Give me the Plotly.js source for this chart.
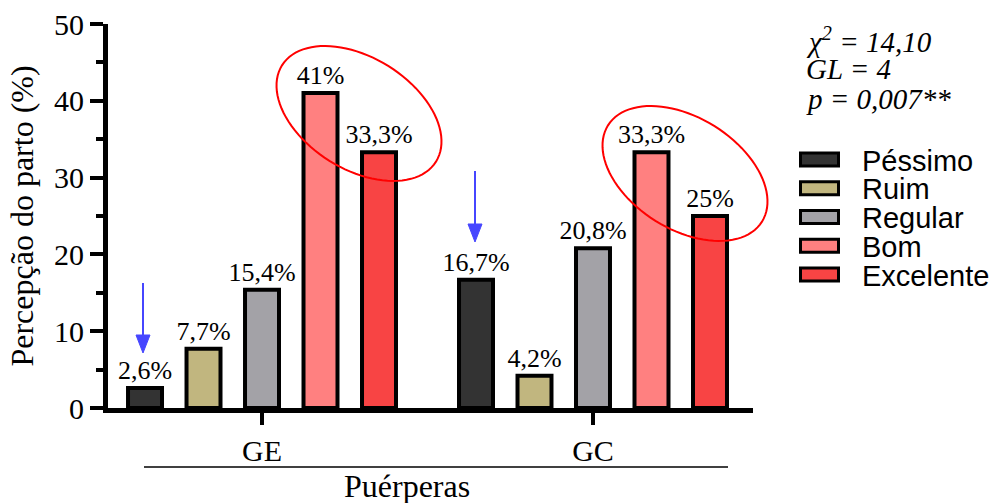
<!DOCTYPE html>
<html>
<head>
<meta charset="utf-8">
<script src="https://cdn.plot.ly/plotly-3.0.1.min.js"></script>
<style>
  html, body { margin: 0; padding: 0; background: #ffffff; }
  #chart { width: 998px; height: 503px; }
</style>
</head>
<body>
<div id="chart"></div>
<script>
// ---- Data ----
const categories = ['GE', 'GC'];
const seriesNames = ['Péssimo', 'Ruim', 'Regular', 'Bom', 'Excelente'];
const pessimo   = [2.6, 16.7];
const ruim      = [7.7, 4.2];
const regular   = [15.4, 20.8];
const bom       = [41, 33.3];
const excelente = [33.3, 25];
const seriesColors = ['#333333', '#c1b67f', '#a3a2a7', '#ff8080', '#f84444'];
const statLines = ['χ<sup>2</sup> = 14,10', 'GL = 4', 'p = 0,007**'];
const yTitle = 'Percepção do parto (%)';
const xTitle = 'Puérperas';

const allValues = [pessimo, ruim, regular, bom, excelente];

// ---- Geometry helpers (pixels -> paper) ----
const W = 998, H = 503;
const M = { l: 108, r: 245, t: 24, b: 95 };
const PW = W - M.l - M.r, PH = H - M.t - M.b;
const px = x => (x - M.l) / PW;
const py = y => (H - M.b - y) / PH;
const SERIF = 'Liberation Serif, Times New Roman, serif';
const SANS = 'Liberation Sans, Arial, sans-serif';

const fmt = v => String(v).replace('.', ',') + '%';

const traces = allValues.map((vals, i) => ({
  type: 'bar',
  name: seriesNames[i],
  x: categories,
  y: vals,
  text: vals.map(fmt),
  textposition: 'outside',
  constraintext: 'none',
  cliponaxis: false,
  textfont: { family: SERIF, size: 26, color: '#000000' },
  marker: { color: seriesColors[i], line: { color: '#000000', width: 4 } },
  showlegend: false,
  hoverinfo: 'skip'
}));

function ellipsePath(cx, cy, a, b, thDeg) {
  const th = thDeg * Math.PI / 180;
  let d = '';
  for (let k = 0; k <= 96; k++) {
    const t = 2 * Math.PI * k / 96;
    const X = cx + a * Math.cos(t) * Math.cos(th) - b * Math.sin(t) * Math.sin(th);
    const Y = cy + a * Math.cos(t) * Math.sin(th) + b * Math.sin(t) * Math.cos(th);
    d += (k === 0 ? 'M' : 'L') + px(X).toFixed(5) + ',' + py(Y).toFixed(5);
  }
  return d + 'Z';
}

function arrowShapes(x, yTop, yTip) {
  const headLen = 18, headHalf = 7;
  return [
    { type: 'line', xref: 'paper', yref: 'paper', x0: px(x), x1: px(x), y0: py(yTop), y1: py(yTip - headLen + 1),
      line: { color: '#4646ff', width: 2 } },
    { type: 'path', xref: 'paper', yref: 'paper',
      path: 'M' + px(x - headHalf) + ',' + py(yTip - headLen) + 'L' + px(x + headHalf) + ',' + py(yTip - headLen) +
            'L' + px(x) + ',' + py(yTip) + 'Z',
      fillcolor: '#4646ff', line: { color: '#4646ff', width: 1 } }
  ];
}

const shapes = [
  { type: 'line', xref: 'paper', yref: 'paper', x0: px(144), x1: px(728), y0: py(467), y1: py(467),
    line: { color: '#000000', width: 1.5 } },
  { type: 'path', xref: 'paper', yref: 'paper', path: ellipsePath(359, 113.5, 90.8, 55.8, 32),
    line: { color: '#ff0000', width: 2 }, fillcolor: 'rgba(0,0,0,0)' },
  { type: 'path', xref: 'paper', yref: 'paper', path: ellipsePath(685, 173.5, 90.8, 55.8, 32),
    line: { color: '#ff0000', width: 2 }, fillcolor: 'rgba(0,0,0,0)' },
  ...arrowShapes(143, 283, 353),
  ...arrowShapes(475, 171, 242)
];

const annotations = [];

seriesNames.forEach((name, i) => {
  const cy = 159.5 + i * 28.75;
  shapes.push({ type: 'rect', xref: 'paper', yref: 'paper',
    x0: px(800.5), x1: px(838.5), y0: py(cy + 6.5), y1: py(cy - 6.5),
    fillcolor: seriesColors[i], line: { color: '#000000', width: 3 } });
  annotations.push({ xref: 'paper', yref: 'paper', x: px(860), y: py(cy + 1),
    xanchor: 'left', yanchor: 'middle', showarrow: false, text: name,
    font: { family: SANS, size: 29, color: '#000000' } });
});

const statY = [40, 69, 99];
statLines.forEach((s, i) => {
  annotations.push({ xref: 'paper', yref: 'paper', x: px(804), y: py(statY[i]),
    xanchor: 'left', yanchor: 'middle', showarrow: false, text: s,
    font: { family: SERIF, size: 29, color: '#000000', style: 'italic' } });
});

annotations.push({ xref: 'paper', yref: 'paper', x: px(407), y: py(486), xanchor: 'center', yanchor: 'middle',
  showarrow: false, text: xTitle,
  font: { family: SERIF, size: 32, color: '#000000' } });

const layout = {
  width: W, height: H,
  margin: M,
  paper_bgcolor: '#ffffff', plot_bgcolor: '#ffffff',
  font: { family: SERIF, color: '#000000' },
  barmode: 'group',
  bargap: 0.1163,
  bargroupgap: 0.419,
  showlegend: false,
  xaxis: {
    type: 'category',
    range: [-0.4653, 1.4834],
    showline: true, linewidth: 5, linecolor: '#000000',
    ticks: 'outside', ticklen: 12, tickwidth: 4, tickcolor: '#000000',
    tickfont: { family: SERIF, size: 30, color: '#000000' },
    showgrid: false, zeroline: false, fixedrange: true
  },
  yaxis: {
    range: [0, 50],
    tick0: 0, dtick: 10,
    showline: true, linewidth: 5, linecolor: '#000000',
    ticks: 'outside', ticklen: 13, tickwidth: 4, tickcolor: '#000000',
    minor: { dtick: 5, ticks: 'outside', ticklen: 7, tickwidth: 4, tickcolor: '#000000', showgrid: false },
    tickfont: { family: SERIF, size: 30, color: '#000000' },
    title: { text: yTitle, standoff: 12, font: { family: SERIF, size: 32, color: '#000000' } },
    showgrid: false, zeroline: false, fixedrange: true
  },
  shapes: shapes,
  annotations: annotations
};

Plotly.newPlot('chart', traces, layout, { displayModeBar: false, staticPlot: true });
</script>
</body>
</html>
